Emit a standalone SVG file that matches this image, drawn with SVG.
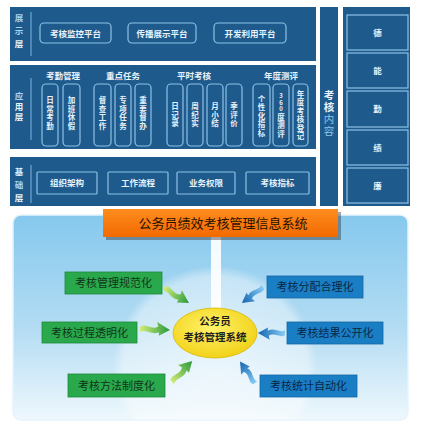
<svg xmlns="http://www.w3.org/2000/svg" xmlns:xlink="http://www.w3.org/1999/xlink" width="425" height="429" viewBox="0 0 425 429">
<style>
.pnl{fill:#1f5a8d}
.bx{fill:none;stroke:#8cc2e6;stroke-width:1.2}
.t{font-family:"Noto Sans CJK SC","Liberation Sans",sans-serif;fill:#e8f3fb;font-weight:bold;text-anchor:middle}
.s8{font-size:8.5px}
.v{font-family:"Noto Sans CJK SC","Liberation Sans",sans-serif;fill:#e8f3fb;font-weight:bold;text-anchor:middle;font-size:7.5px;writing-mode:vertical-rl;text-orientation:upright}
.d{font-size:6px}
.lay{font-family:"Noto Sans CJK SC",sans-serif;font-size:8.5px;fill:#a9d2ee;text-anchor:middle;font-weight:bold;writing-mode:vertical-rl;text-orientation:upright}
.w{fill:#e8f3fb}
.kh{font-size:10.5px}
.lt{fill:#8fc3e6;font-weight:normal}
.div{stroke:#7fb4dc;stroke-width:1}
.g{fill:#2aa84c;stroke:#1d8a3a;stroke-width:0.8}
.b{fill:#1a7ec4;stroke:#1566a3;stroke-width:0.8}
.bt{font-family:"Noto Sans CJK SC","Liberation Sans",sans-serif;font-size:11px;text-anchor:middle}
</style>
<defs>
<linearGradient id="bg" x1="0" y1="0" x2="0" y2="1">
<stop offset="0" stop-color="#86c8ee"/>
<stop offset="0.55" stop-color="#b3dcf3"/>
<stop offset="1" stop-color="#eef8fd"/>
</linearGradient>
<radialGradient id="halo" cx="0.5" cy="0.5" r="0.5">
<stop offset="0" stop-color="#ffffff" stop-opacity="0.6"/>
<stop offset="0.9" stop-color="#ffffff" stop-opacity="0.4"/>
<stop offset="1" stop-color="#ffffff" stop-opacity="0"/>
</radialGradient>
<linearGradient id="org" x1="0" y1="0" x2="0" y2="1">
<stop offset="0" stop-color="#ff8c1e"/>
<stop offset="1" stop-color="#f26a00"/>
</linearGradient>
<radialGradient id="yel" cx="0.45" cy="0.4" r="0.6">
<stop offset="0" stop-color="#fff36a"/>
<stop offset="1" stop-color="#f2d21a"/>
</radialGradient>
<linearGradient id="ga" x1="0" y1="0" x2="1" y2="0">
<stop offset="0" stop-color="#d2ec78"/>
<stop offset="1" stop-color="#279a3c"/>
</linearGradient>
<linearGradient id="ba" x1="0" y1="0" x2="1" y2="0">
<stop offset="0" stop-color="#86cdf6"/>
<stop offset="1" stop-color="#1463ae"/>
</linearGradient>
<path id="arr" d="M0,-2.5 C6,-6 11,1 18,-3 L17,-7.5 L30,0 L19,6 L19,2.5 C12,6.5 6,-0.5 0,3 Z"/>
<clipPath id="pc"><rect x="13" y="215" width="395" height="205" rx="8"/></clipPath>
</defs>

<rect width="425" height="429" fill="#ffffff"/>

<!-- top architecture panels -->
<g id="layer-display">
<rect class="pnl" x="10" y="7" width="306" height="54"/>
<text class="lay" x="19" y="18">展</text><text class="lay" x="19" y="31">示</text><text class="lay w" x="19" y="44">层</text>
<line class="div" x1="31" y1="12" x2="31" y2="56"/>
</g>
<g id="n-jkpt"><rect class="bx" x="40" y="23" width="71" height="20" rx="4"/><text class="t s8" x="75.5" y="36.5">考核监控平台</text></g>
<g id="n-cbpt"><rect class="bx" x="128" y="23" width="68" height="20" rx="4"/><text class="t s8" x="162" y="36.5">传播展示平台</text></g>
<g id="n-kfpt"><rect class="bx" x="214" y="23" width="72" height="20" rx="4"/><text class="t s8" x="250" y="36.5">开发利用平台</text></g>

<g id="layer-app">
<rect class="pnl" x="10" y="65" width="306" height="84"/>
<text class="lay" x="19" y="96">应</text><text class="lay w" x="19" y="106.5">用</text><text class="lay w" x="19" y="117">层</text>
<line class="div" x1="31" y1="78" x2="31" y2="140"/>
<text class="t s8" x="63" y="79">考勤管理</text>
<text class="t s8" x="123" y="79">重点任务</text>
<text class="t s8" x="194" y="79">平时考核</text>
<text class="t s8" x="281" y="79">年度测评</text>
</g>
<g id="n-rcqk"><rect class="bx" x="42" y="84" width="16" height="62" rx="4"/><text class="v" x="50" y="100.25">日</text><text class="v" x="50" y="108.75">常</text><text class="v" x="50" y="117.25">考</text><text class="v" x="50" y="125.75">勤</text></g>
<g id="n-jbxj"><rect class="bx" x="63" y="84" width="17" height="62" rx="4"/><text class="v" x="71.5" y="100.25">加</text><text class="v" x="71.5" y="108.75">班</text><text class="v" x="71.5" y="117.25">休</text><text class="v" x="71.5" y="125.75">假</text></g>
<g id="n-dcgz"><rect class="bx" x="94" y="84" width="17" height="62" rx="4"/><text class="v" x="102.5" y="100.25">督</text><text class="v" x="102.5" y="108.75">查</text><text class="v" x="102.5" y="117.25">工</text><text class="v" x="102.5" y="125.75">作</text></g>
<g id="n-zxrw"><rect class="bx" x="115" y="84" width="16" height="62" rx="4"/><text class="v" x="123" y="100.25">专</text><text class="v" x="123" y="108.75">项</text><text class="v" x="123" y="117.25">任</text><text class="v" x="123" y="125.75">务</text></g>
<g id="n-zddb"><rect class="bx" x="135" y="84" width="16" height="62" rx="4"/><text class="v" x="143" y="100.25">重</text><text class="v" x="143" y="108.75">要</text><text class="v" x="143" y="117.25">督</text><text class="v" x="143" y="125.75">办</text></g>
<g id="n-rjl"><rect class="bx" x="167" y="84" width="16" height="62" rx="4"/><text class="v" x="175" y="106.5">日</text><text class="v" x="175" y="115">记</text><text class="v" x="175" y="123.5">录</text></g>
<g id="n-zjs"><rect class="bx" x="187" y="84" width="16" height="62" rx="4"/><text class="v" x="195" y="106.5">周</text><text class="v" x="195" y="115">纪</text><text class="v" x="195" y="123.5">实</text></g>
<g id="n-yxj"><rect class="bx" x="207" y="84" width="16" height="62" rx="4"/><text class="v" x="215" y="106.5">月</text><text class="v" x="215" y="115">小</text><text class="v" x="215" y="123.5">结</text></g>
<g id="n-jpg"><rect class="bx" x="226" y="84" width="16" height="62" rx="4"/><text class="v" x="234" y="106.5">季</text><text class="v" x="234" y="115">评</text><text class="v" x="234" y="123.5">价</text></g>
<g id="n-gxh"><rect class="bx" x="253" y="84" width="17" height="62" rx="4"/><text class="v" x="261.5" y="99">个</text><text class="v" x="261.5" y="107.5">性</text><text class="v" x="261.5" y="116">化</text><text class="v" x="261.5" y="124.5">指</text><text class="v" x="261.5" y="133">标</text></g>
<g id="n-360"><rect class="bx" x="273" y="84" width="16" height="62" rx="4"/><text class="v d" x="281" y="96">3</text><text class="v d" x="281" y="102.5">6</text><text class="v d" x="281" y="109">0</text><text class="v" x="281" y="117">度</text><text class="v" x="281" y="125.5">测</text><text class="v" x="281" y="134">评</text></g>
<g id="n-ndkh"><rect class="bx" x="293" y="84" width="15" height="62" rx="4"/><text class="v" x="300.5" y="93.75">年</text><text class="v" x="300.5" y="102.25">度</text><text class="v" x="300.5" y="110.75">考</text><text class="v" x="300.5" y="119.25">核</text><text class="v" x="300.5" y="127.75">登</text><text class="v" x="300.5" y="136.25">记</text></g>

<g id="layer-base">
<rect class="pnl" x="10" y="157" width="306" height="49"/>
<text class="lay w" x="19" y="172">基</text><text class="lay" x="19" y="185">础</text><text class="lay w" x="19" y="198">层</text>
<line class="div" x1="31" y1="165" x2="31" y2="203"/>
</g>
<g id="n-zzjg"><rect class="bx" x="37" y="172" width="60" height="22" rx="1"/><text class="t s8" x="67" y="186">组织架构</text></g>
<g id="n-gzlc"><rect class="bx" x="108" y="172" width="60" height="22" rx="1"/><text class="t s8" x="138" y="186">工作流程</text></g>
<g id="n-ywqx"><rect class="bx" x="177" y="172" width="58" height="22" rx="1"/><text class="t s8" x="206" y="186">业务权限</text></g>
<g id="n-khzb"><rect class="bx" x="246" y="172" width="63" height="22" rx="1"/><text class="t s8" x="277.5" y="186">考核指标</text></g>

<g id="n-khnr">
<rect class="pnl" x="320" y="7" width="18" height="199"/>
<text class="lay w kh" x="329" y="95">考</text><text class="lay w kh" x="329" y="107">核</text><text class="lay kh lt" x="329" y="119">内</text><text class="lay kh lt" x="329" y="131">容</text>
</g>
<g id="content-panel"><rect class="pnl" x="343" y="7" width="67" height="199"/></g>
<g id="n-de"><rect class="bx" x="347" y="15" width="61" height="35" stroke="#6aa5d2"/><text class="t s8" x="377.5" y="35.5">德</text></g>
<g id="n-neng"><rect class="bx" x="347" y="53" width="61" height="35" stroke="#6aa5d2"/><text class="t s8" x="377.5" y="73.5">能</text></g>
<g id="n-qin"><rect class="bx" x="347" y="91" width="61" height="36" stroke="#6aa5d2"/><text class="t s8" x="377.5" y="112">勤</text></g>
<g id="n-ji"><rect class="bx" x="347" y="130" width="61" height="35" stroke="#6aa5d2"/><text class="t s8" x="377.5" y="150.5">绩</text></g>
<g id="n-lian"><rect class="bx" x="347" y="168" width="61" height="35" stroke="#6aa5d2"/><text class="t s8" x="377.5" y="188.5">廉</text></g>

<!-- bottom system panel -->
<g id="system-panel">
<rect x="13" y="215" width="395" height="205" rx="8" fill="url(#bg)" stroke="#e6f4fc" stroke-width="1.5"/>
<circle cx="215" cy="368" r="102" fill="url(#halo)" clip-path="url(#pc)"/>
<rect x="211" y="236" width="10" height="76" fill="#ffffff" opacity="0.9"/>
</g>
<g id="n-title">
<rect x="106" y="212" width="235" height="28" fill="#3a3a3a" opacity="0.45"/>
<rect x="103" y="209" width="235" height="28" fill="url(#org)"/>
<text x="223" y="228" font-family="'Noto Sans CJK SC',sans-serif" font-size="13px" fill="#2a1200" text-anchor="middle">公务员绩效考核管理信息系统</text>
</g>
<g id="n-center">
<ellipse cx="215" cy="333" rx="42" ry="25" fill="url(#yel)" stroke="#d9b800" stroke-width="0.8"/>
<text font-family="'Noto Sans CJK SC',sans-serif" font-size="10.5px" font-weight="bold" fill="#1f1f1f" text-anchor="middle"><tspan x="215" y="324.5">公务员</tspan><tspan x="215" y="340.5">考核管理系统</tspan></text>
</g>

<g id="n-gfh"><rect class="g" x="65" y="272" width="97" height="22"/><text class="bt" x="113.5" y="287" fill="#10341a">考核管理规范化</text></g>
<g id="n-tmh"><rect class="g" x="42" y="322" width="95" height="21"/><text class="bt" x="89.5" y="336.5" fill="#10341a">考核过程透明化</text></g>
<g id="n-zdh"><rect class="g" x="68" y="374" width="97" height="23"/><text class="bt" x="116.5" y="389.5" fill="#10341a">考核方法制度化</text></g>
<g id="n-hlh"><rect class="b" x="267" y="276" width="96" height="22"/><text class="bt" x="315" y="291" fill="#0b2747">考核分配合理化</text></g>
<g id="n-gkh"><rect class="b" x="287" y="322" width="96" height="22"/><text class="bt" x="335" y="337" fill="#0b2747">考核结果公开化</text></g>
<g id="n-zdhua"><rect class="b" x="260" y="375" width="97" height="22"/><text class="bt" x="308.5" y="390" fill="#0b2747">考核统计自动化</text></g>

<g id="connectors">
<use xlink:href="#arr" fill="url(#ga)" transform="translate(164,288) rotate(31) scale(0.97)"/>
<use xlink:href="#arr" fill="url(#ga)" transform="translate(140,329) rotate(2)"/>
<use xlink:href="#arr" fill="url(#ga)" transform="translate(172,382) rotate(-46) scale(0.97)"/>
<use xlink:href="#arr" fill="url(#ba)" transform="translate(263,287) rotate(143) scale(0.88)"/>
<use xlink:href="#arr" fill="url(#ba)" transform="translate(285,333) rotate(180) scale(0.9)"/>
<use xlink:href="#arr" fill="url(#ba)" transform="translate(255,383) rotate(-125) scale(0.87)"/>
</g>
</svg>
